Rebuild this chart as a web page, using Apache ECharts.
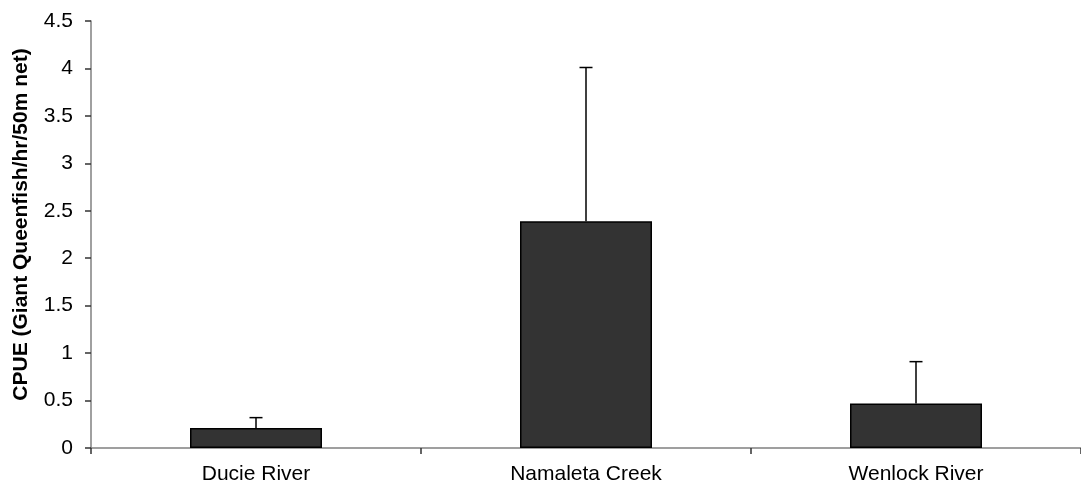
<!DOCTYPE html>
<html>
<head>
<meta charset="utf-8">
<script src="https://cdn.jsdelivr.net/npm/echarts@6/dist/echarts.min.js"></script>
<style>html,body{margin:0;padding:0;background:#fff}#c{width:1081px;height:490px}</style>
</head>
<body>
<div id="c"></div>
<script>
const categories = ['Ducie River', 'Namaleta Creek', 'Wenlock River'];
const means = [0.21, 2.39, 0.47];
const upperErr = [0.32, 4.01, 0.91];
const yTicks = [0, 0.5, 1, 1.5, 2, 2.5, 3, 3.5, 4, 4.5];

const chart = echarts.init(document.getElementById('c'), null, {renderer: 'canvas'});
const font = 'Liberation Sans, Arial, sans-serif';
chart.setOption({
  animation: false,
  grid: {left: 91, right: -6, top: 21, bottom: 42, containLabel: false},
  xAxis: {
    type: 'category',
    data: categories,
    axisLine: {lineStyle: {color: '#808080', width: 1.5}},
    axisTick: {show: true, alignWithLabel: false, length: 6, lineStyle: {color: '#333', width: 1.5}},
    axisLabel: {color: '#000', fontFamily: font, fontSize: 21, margin: 16},
    splitLine: {show: false}
  },
  yAxis: {
    type: 'value',
    min: 0, max: 4.5, interval: 0.5,
    name: 'CPUE (Giant Queenfish/hr/50m net)',
    nameLocation: 'middle',
    nameGap: 59,
    nameTextStyle: {color: '#000', fontFamily: font, fontSize: 21, fontWeight: 'bold', padding: [0, 0, 0, 20]},
    axisLine: {show: true, lineStyle: {color: '#808080', width: 1.5}},
    axisTick: {show: true, length: 6, lineStyle: {color: '#333', width: 1.5}},
    axisLabel: {color: '#000', fontFamily: font, fontSize: 21, margin: 18,
      formatter: v => yTicks.includes(v) ? String(v) : ''},
    splitLine: {show: false}
  },
  series: [
    {
      type: 'bar',
      data: means,
      barWidth: '40%',
      itemStyle: {color: '#333333', borderColor: '#000', borderWidth: 1.5},
      z: 2
    },
    {
      type: 'custom',
      data: categories.map((c, i) => [i, means[i], upperErr[i]]),
      renderItem: function (params, api) {
        const base = api.coord([api.value(0), api.value(1)]);
        const top = api.coord([api.value(0), api.value(2)]);
        const half = 6.5;
        return {
          type: 'group',
          children: [
            {type: 'line', shape: {x1: base[0], y1: base[1], x2: top[0], y2: top[1]}, style: {stroke: '#000', lineWidth: 1.5}},
            {type: 'line', shape: {x1: top[0] - half, y1: top[1], x2: top[0] + half, y2: top[1]}, style: {stroke: '#000', lineWidth: 1.5}}
          ]
        };
      },
      z: 3
    }
  ]
});
</script>
</body>
</html>
